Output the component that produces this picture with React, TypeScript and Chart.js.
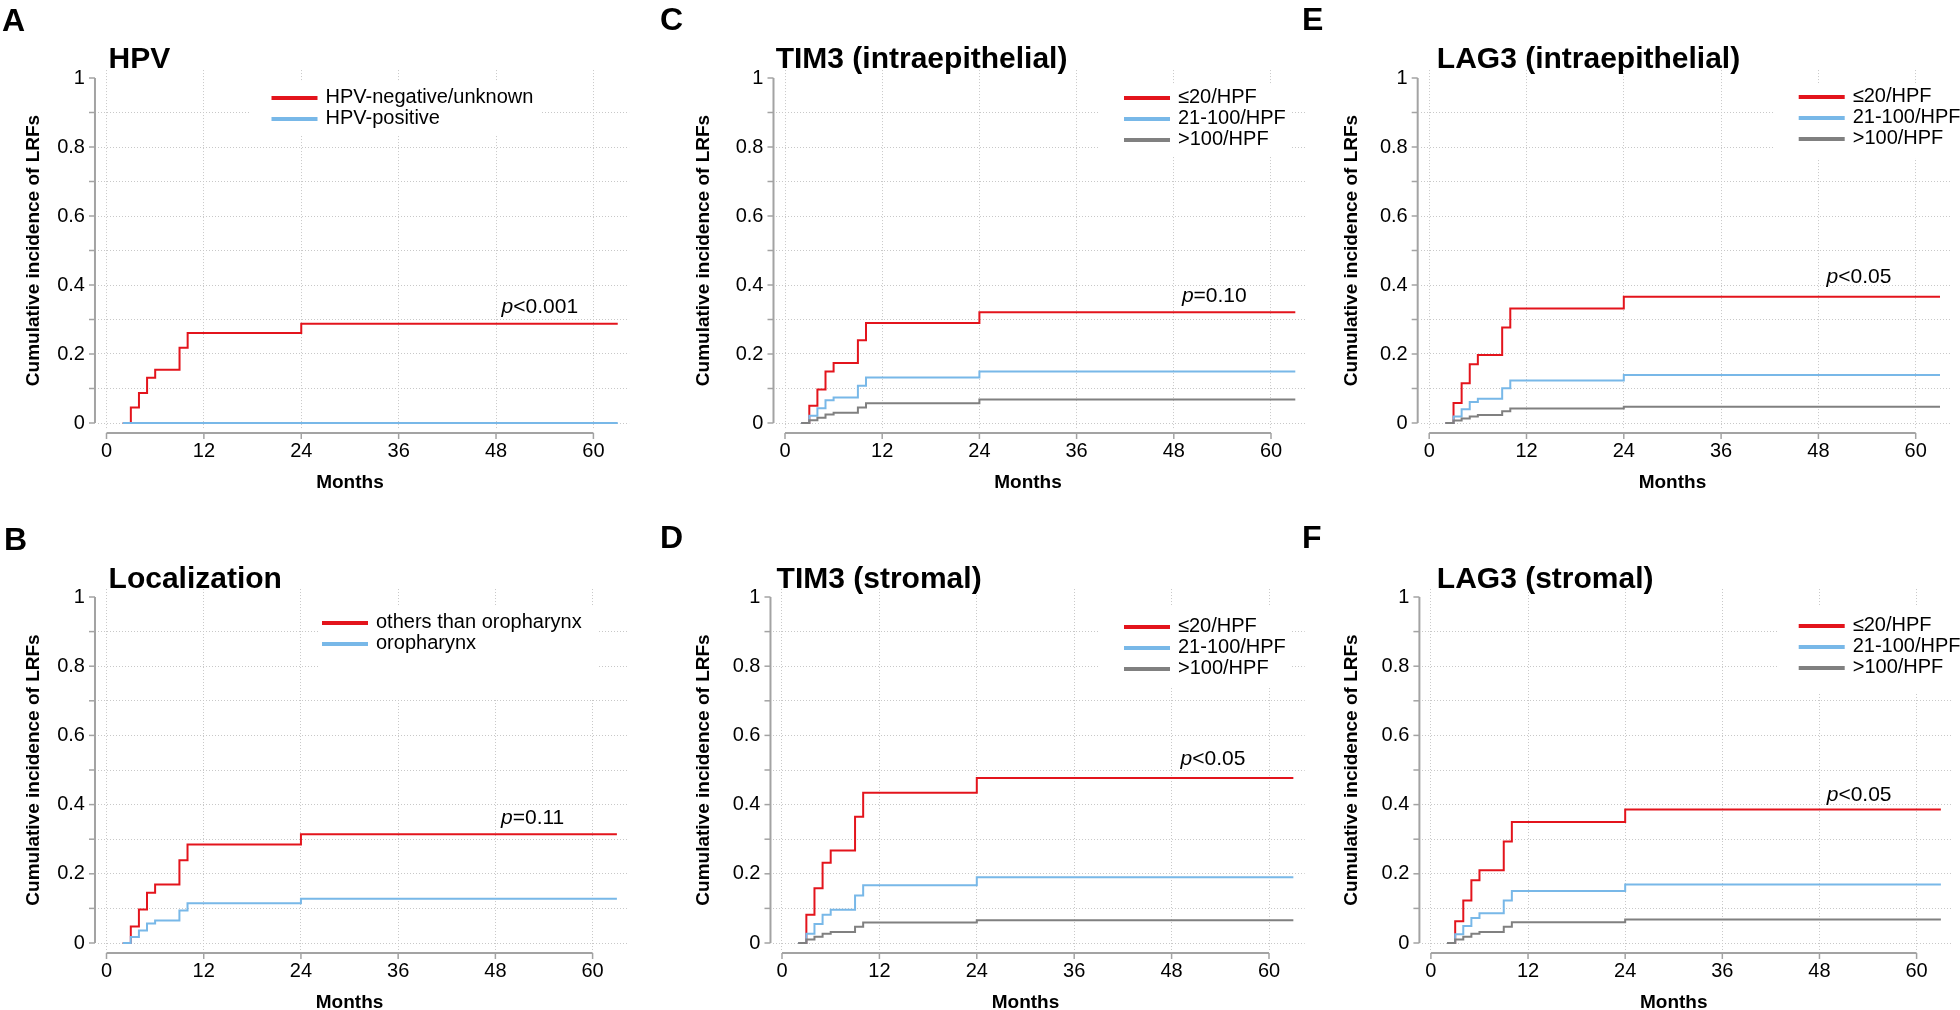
import React, { useEffect, useRef } from 'react';
import { Chart, registerables } from 'chart.js';

Chart.register(...registerables);

// ---------- data ----------
const months = [2, 3, 4, 5, 6, 9, 10, 24, 63];
const xTicks = [0, 12, 24, 36, 48, 60];
const yGridTicks = [0, 0.1, 0.2, 0.3, 0.4, 0.5, 0.6, 0.7, 0.8, 0.9, 1];
const yTickLabels = ['0', '', '0.2', '', '0.4', '', '0.6', '', '0.8', '', '1'];

const aHpvNegative = [0, 0.045, 0.087, 0.131, 0.154, 0.218, 0.261, 0.288, 0.288];
const aHpvPositive = [0, 0, 0, 0, 0, 0, 0, 0, 0];

const bOthers = [0, 0.048, 0.097, 0.145, 0.169, 0.239, 0.285, 0.314, 0.314];
const bOropharynx = [0, 0.017, 0.036, 0.056, 0.065, 0.094, 0.115, 0.128, 0.128];

const cLow = [0, 0.05, 0.097, 0.149, 0.174, 0.24, 0.29, 0.321, 0.321];
const cMid = [0, 0.021, 0.043, 0.066, 0.074, 0.108, 0.132, 0.149, 0.149];
const cHigh = [0, 0.008, 0.015, 0.025, 0.03, 0.045, 0.057, 0.068, 0.068];

const dLow = [0, 0.082, 0.158, 0.232, 0.267, 0.365, 0.434, 0.477, 0.477];
const dMid = [0, 0.027, 0.055, 0.082, 0.096, 0.137, 0.167, 0.19, 0.19];
const dHigh = [0, 0.01, 0.018, 0.027, 0.032, 0.047, 0.059, 0.066, 0.066];

const eLow = [0, 0.058, 0.115, 0.17, 0.197, 0.277, 0.332, 0.366, 0.366];
const eMid = [0, 0.019, 0.04, 0.061, 0.07, 0.101, 0.123, 0.139, 0.139];
const eHigh = [0, 0.007, 0.013, 0.019, 0.023, 0.034, 0.042, 0.047, 0.047];

const fLow = [0, 0.063, 0.123, 0.181, 0.21, 0.293, 0.35, 0.386, 0.386];
const fMid = [0, 0.025, 0.049, 0.072, 0.086, 0.123, 0.15, 0.169, 0.169];
const fHigh = [0, 0.01, 0.018, 0.027, 0.032, 0.047, 0.06, 0.068, 0.068];

const hpfLabels = ['≤20/HPF', '21-100/HPF', '>100/HPF'];
const pLetters = ['A', 'B', 'C', 'D', 'E', 'F'];
const pTitles = ['HPV', 'Localization', 'TIM3 (intraepithelial)', 'TIM3 (stromal)', 'LAG3 (intraepithelial)', 'LAG3 (stromal)'];
const pValueText = ['<0.001', '=0.11', '=0.10', '<0.05', '<0.05', '<0.05'];
const pValueX = [53.4, 52.6, 53, 53.1, 53, 52.9];
const pValueY = [0.318, 0.344, 0.351, 0.514, 0.406, 0.41];

// ---------- style ----------
const RED = '#e3141c';
const BLUE = '#78b8e8';
const GRAY = '#808080';
const AXIS = '#a3a3a3';
const GRID = '#c8c8c8';
const FONT = '"Liberation Sans", Arial, Helvetica, sans-serif';

const X_MIN = -1.05, X_MAX = 64.4, Y_MIN = -0.02, Y_MAX = 1.023;

type Series = { label: string; values: number[]; color: string; order: number };

const panels = [
  {
    series: [
      { label: 'HPV-negative/unknown', values: aHpvNegative, color: RED, order: 2 },
      { label: 'HPV-positive', values: aHpvPositive, color: BLUE, order: 1 },
    ],
    canvas: { x: 0, y: 0, w: 650, h: 505 }, x0: 106.5, x60: 593.4, y1: 78, y0: 423,
    letterPos: [2, 31], titlePos: [108.6, 68], yTitleX: 34,
    legend: { lineX: 271.5, rowY: [98, 119], box: [250, 82, 541, 136] },
  },
  {
    series: [
      { label: 'others than oropharynx', values: bOthers, color: RED, order: 2 },
      { label: 'oropharynx', values: bOropharynx, color: BLUE, order: 1 },
    ],
    canvas: { x: 0, y: 505, w: 650, h: 505 }, x0: 106.5, x60: 592.6, y1: 597, y0: 943,
    letterPos: [4, 550], titlePos: [108.6, 588], yTitleX: 33.5,
    legend: { lineX: 322, rowY: [623, 644], box: [318, 606, 598, 698] },
  },
  {
    series: [
      { label: hpfLabels[0], values: cLow, color: RED, order: 2 },
      { label: hpfLabels[1], values: cMid, color: BLUE, order: 1 },
      { label: hpfLabels[2], values: cHigh, color: GRAY, order: 0 },
    ],
    canvas: { x: 650, y: 0, w: 665, h: 505 }, x0: 785, x60: 1271, y1: 78, y0: 423,
    letterPos: [660, 30], titlePos: [775.7, 68], yTitleX: 704,
    legend: { lineX: 1124, rowY: [98, 119, 140], box: [1100, 84, 1292, 156] },
  },
  {
    series: [
      { label: hpfLabels[0], values: dLow, color: RED, order: 2 },
      { label: hpfLabels[1], values: dMid, color: BLUE, order: 1 },
      { label: hpfLabels[2], values: dHigh, color: GRAY, order: 0 },
    ],
    canvas: { x: 650, y: 505, w: 665, h: 505 }, x0: 782, x60: 1269, y1: 597, y0: 943,
    letterPos: [660, 548], titlePos: [776.6, 588], yTitleX: 704,
    legend: { lineX: 1124, rowY: [627, 648, 669], box: [1100, 605, 1292, 686] },
  },
  {
    series: [
      { label: hpfLabels[0], values: eLow, color: RED, order: 2 },
      { label: hpfLabels[1], values: eMid, color: BLUE, order: 1 },
      { label: hpfLabels[2], values: eHigh, color: GRAY, order: 0 },
    ],
    canvas: { x: 1300, y: 0, w: 660, h: 505 }, x0: 1429.2, x60: 1915.7, y1: 78, y0: 423,
    letterPos: [1302, 30], titlePos: [1436.8, 68], yTitleX: 1351.5,
    legend: { lineX: 1798.7, rowY: [97, 118, 139], box: [1775, 83, 1960, 158] },
  },
  {
    series: [
      { label: hpfLabels[0], values: fLow, color: RED, order: 2 },
      { label: hpfLabels[1], values: fMid, color: BLUE, order: 1 },
      { label: hpfLabels[2], values: fHigh, color: GRAY, order: 0 },
    ],
    canvas: { x: 1300, y: 505, w: 660, h: 505 }, x0: 1430.9, x60: 1916.6, y1: 597, y0: 943,
    letterPos: [1302, 548], titlePos: [1436.8, 588], yTitleX: 1351.5,
    legend: { lineX: 1798.7, rowY: [626, 647, 668], box: [1777, 605, 1960, 692] },
  },
];

function makeDecor(p: any, idx: number) {
  return {
    id: 'decor' + idx,
    afterDraw(chart: any) {
      const ctx: CanvasRenderingContext2D = chart.ctx;
      const xs = chart.scales.x;
      const ys = chart.scales.y;
      const ox = p.canvas.x;
      const oy = p.canvas.y;
      ctx.save();

      // legend background box
      const b = p.legend.box;
      ctx.fillStyle = '#ffffff';
      ctx.fillRect(b[0] - ox, b[1] - oy, b[2] - b[0], b[3] - b[1]);

      // axes (detached, R style)
      ctx.strokeStyle = AXIS;
      ctx.lineWidth = 2;
      const ax = chart.chartArea.left - 3;
      ctx.beginPath();
      ctx.moveTo(ax, ys.getPixelForValue(0));
      ctx.lineTo(ax, ys.getPixelForValue(1));
      ctx.stroke();
      ctx.lineWidth = 1.5;
      yGridTicks.forEach((v) => {
        const y = ys.getPixelForValue(v);
        ctx.beginPath();
        ctx.moveTo(ax, y);
        ctx.lineTo(ax - 6, y);
        ctx.stroke();
      });
      const ay = ys.getPixelForValue(0) + 10;
      ctx.lineWidth = 2;
      ctx.beginPath();
      ctx.moveTo(xs.getPixelForValue(0), ay);
      ctx.lineTo(xs.getPixelForValue(60), ay);
      ctx.stroke();
      ctx.lineWidth = 1.5;
      xTicks.forEach((v) => {
        const x = xs.getPixelForValue(v);
        ctx.beginPath();
        ctx.moveTo(x, ay);
        ctx.lineTo(x, ay + 6);
        ctx.stroke();
      });

      ctx.fillStyle = '#000';
      // panel letter
      ctx.font = `bold 32px ${FONT}`;
      ctx.textAlign = 'left';
      ctx.textBaseline = 'alphabetic';
      ctx.fillText(pLetters[idx], p.letterPos[0] - ox, p.letterPos[1] - oy);
      // title
      ctx.font = `bold 30px ${FONT}`;
      ctx.fillText(pTitles[idx], p.titlePos[0] - ox, p.titlePos[1] - oy);

      // y title
      ctx.save();
      ctx.font = `bold 19px ${FONT}`;
      ctx.translate(p.yTitleX - ox, ys.getPixelForValue(0.5));
      ctx.rotate(-Math.PI / 2);
      ctx.textAlign = 'center';
      ctx.textBaseline = 'middle';
      ctx.fillText('Cumulative incidence of LRFs', 0, 0);
      ctx.restore();

      // x title
      ctx.font = `bold 19px ${FONT}`;
      ctx.textAlign = 'center';
      ctx.textBaseline = 'alphabetic';
      ctx.fillText('Months', xs.getPixelForValue(30), ys.getPixelForValue(0) + 65);

      // legend entries
      ctx.font = `20px ${FONT}`;
      ctx.textAlign = 'left';
      ctx.textBaseline = 'middle';
      p.series.forEach((s: Series, i: number) => {
        const y = p.legend.rowY[i] - oy;
        const x1 = p.legend.lineX - ox;
        ctx.strokeStyle = s.color;
        ctx.lineWidth = 4;
        ctx.beginPath();
        ctx.moveTo(x1, y);
        ctx.lineTo(x1 + 46, y);
        ctx.stroke();
        ctx.fillStyle = '#000';
        ctx.fillText(s.label, x1 + 54, y - 1);
      });

      // p-value
      const pxC = xs.getPixelForValue(pValueX[idx]);
      const pyB = ys.getPixelForValue(pValueY[idx]);
      ctx.textBaseline = 'alphabetic';
      ctx.font = `italic 21px ${FONT}`;
      const w1 = ctx.measureText('p').width;
      ctx.font = `21px ${FONT}`;
      const w2 = ctx.measureText(pValueText[idx]).width;
      const start = pxC - (w1 + w2) / 2;
      ctx.font = `italic 21px ${FONT}`;
      ctx.fillText('p', start, pyB);
      ctx.font = `21px ${FONT}`;
      ctx.fillText(pValueText[idx], start + w1, pyB);

      ctx.restore();
    },
  };
}

function Panel({ p, idx }: { p: any; idx: number }) {
  const ref = useRef<HTMLCanvasElement | null>(null);
  useEffect(() => {
    const canvas = ref.current;
    if (!canvas) return;
    const c = p.canvas;
    const ppm = (p.x60 - p.x0) / 60;
    const ppv = p.y0 - p.y1;
    const left = p.x0 + X_MIN * ppm;
    const right = p.x0 + X_MAX * ppm;
    const top = p.y0 - Y_MAX * ppv;
    const bottom = p.y0 - Y_MIN * ppv;

    const datasets = p.series.map((s: Series) => ({
      label: s.label,
      data: months.map((m, i) => ({ x: m, y: s.values[i] })),
      borderColor: s.color,
      backgroundColor: s.color,
      borderWidth: 2,
      stepped: true,
      pointRadius: 0,
      fill: false,
      order: s.order,
    }));

    const gridColor = (ctx: any) => (ctx.tick && ctx.tick.value === 1 && ctx.scale.axis === 'y' ? 'rgba(0,0,0,0)' : GRID);

    const chart = new Chart(canvas, {
      type: 'line',
      data: { datasets },
      options: {
        animation: false,
        responsive: false,
        maintainAspectRatio: false,
        events: [],
        layout: { padding: { left: 0, top: top - c.y, right: c.x + c.w - right, bottom: 0 } },
        plugins: { legend: { display: false }, tooltip: { enabled: false }, title: { display: false } },
        scales: {
          x: {
            type: 'linear',
            min: X_MIN,
            max: X_MAX,
            afterBuildTicks: (s: any) => { s.ticks = xTicks.map((v) => ({ value: v })); },
            afterFit: (s: any) => { s.height = c.y + c.h - bottom; },
            ticks: { autoSkip: false, maxRotation: 0, minRotation: 0, padding: 10, color: '#000', font: { family: FONT, size: 20 }, callback: (v: any) => String(v) },
            grid: { color: gridColor, lineWidth: 1, drawTicks: false },
            border: { display: false, dash: [1, 2] },
          },
          y: {
            type: 'linear',
            min: Y_MIN,
            max: Y_MAX,
            afterBuildTicks: (s: any) => { s.ticks = yGridTicks.map((v) => ({ value: v })); },
            afterFit: (s: any) => { s.width = left - c.x; },
            ticks: { autoSkip: false, padding: 13, color: '#000', font: { family: FONT, size: 20 }, callback: (_v: any, i: number) => yTickLabels[i] },
            grid: { color: gridColor, lineWidth: 1, drawTicks: false },
            border: { display: false, dash: [1, 2] },
          },
        },
      },
      plugins: [makeDecor(p, idx)],
    } as any);
    return () => chart.destroy();
  }, [p, idx]);
  return (
    <canvas
      ref={ref}
      width={p.canvas.w}
      height={p.canvas.h}
      style={{ position: 'absolute', left: p.canvas.x, top: p.canvas.y, width: p.canvas.w, height: p.canvas.h }}
    />
  );
}

export default function App() {
  return (
    <div style={{ position: 'absolute', left: 0, top: 0, width: 1960, height: 1010, background: '#fff', overflow: 'hidden' }}>
      {panels.map((p, i) => (
        <Panel key={i} p={p} idx={i} />
      ))}
    </div>
  );
}
